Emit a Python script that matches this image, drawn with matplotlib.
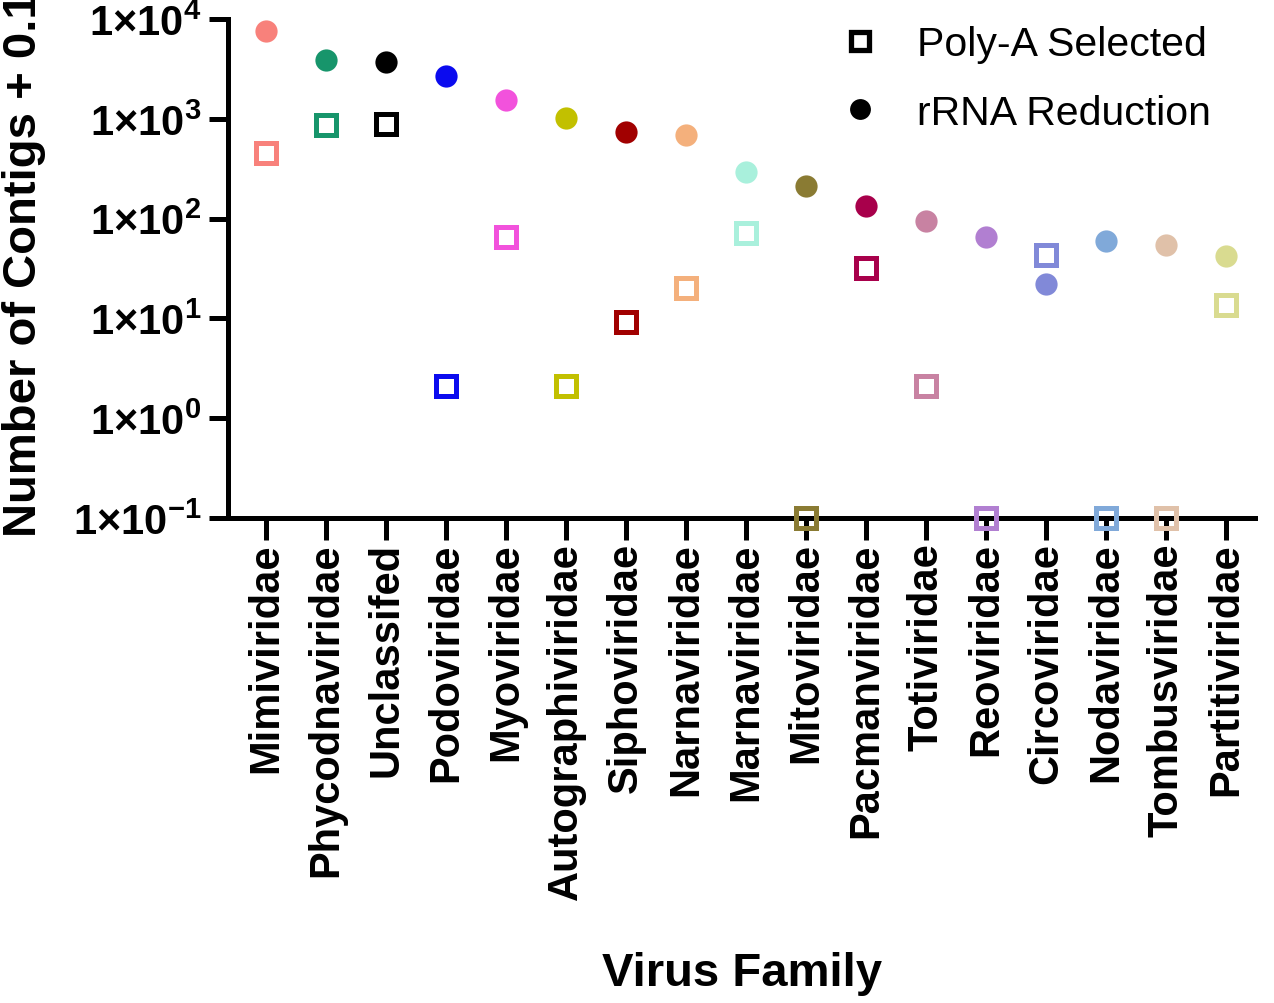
import numpy as np
import matplotlib
matplotlib.use("Agg")
import matplotlib.pyplot as plt
from matplotlib.lines import Line2D

# data (values are contigs + 0.1)
families = ["Mimiviridae", "Phycodnaviridae", "Unclassifed", "Podoviridae",
            "Myoviridae", "Autographiviridae", "Siphoviridae", "Narnaviridae",
            "Marnaviridae", "Mitoviridae", "Pacmanviridae", "Totiviridae",
            "Reoviridae", "Circoviridae", "Nodaviridae", "Tombusviridae",
            "Partitiviridae"]
rrna = [7600, 3900, 3700, 2700, 1550, 1020, 740, 690, 295, 210,
        135, 95, 66, 22, 59, 54, 42]
polya = [457, 870, 890, 2.1, 66, 2.1, 9.1, 20, 71, 0.1,
         32, 2.1, 0.1, 43, 0.1, 0.1, 13.5]
colors = ["#F8817B", "#17956B", "#000000", "#0B0BEF", "#F252DC", "#C2C000",
          "#A10000", "#F4B07C", "#A9F0DC", "#8A7B33", "#A8004B", "#C882A2",
          "#B17FD1", "#8189D8", "#80A9D9", "#E0C1A9", "#D9DB90"]
yticks = [0.1, 1, 10, 100, 1000, 10000]
ytick_labels = [r"$\mathbf{1{\times}10^{-1}}$", r"$\mathbf{1{\times}10^{0}}$",
                r"$\mathbf{1{\times}10^{1}}$", r"$\mathbf{1{\times}10^{2}}$",
                r"$\mathbf{1{\times}10^{3}}$", r"$\mathbf{1{\times}10^{4}}$"]

plt.rcParams['font.family'] = ['Liberation Sans', 'DejaVu Sans']
plt.rcParams['mathtext.fontset'] = 'custom'
plt.rcParams['mathtext.rm'] = 'Liberation Sans'
plt.rcParams['mathtext.bf'] = 'Liberation Sans:bold'

fig = plt.figure(figsize=(12.74, 10.04), dpi=100)
ax = fig.add_axes([228/1274, 1 - 519/1004, (1255 - 228)/1274, (519 - 20)/1004])

x = np.arange(len(families))
for i in range(len(families)):
    ax.plot(x[i], rrna[i], 'o', ms=16, color=colors[i], mec='none',
            clip_on=False, zorder=3)
    ax.plot(x[i], polya[i], 's', ms=15, mfc='none', mec=colors[i],
            mew=3.6, clip_on=False, zorder=4)

ax.set_yscale('log')
ax.set_ylim(0.1, 10000)
ax.set_xlim(-0.633, 16.48)
ax.set_yticks(yticks)
ax.set_yticklabels(ytick_labels, fontsize=30)
ax.minorticks_off()
ax.set_xticks(x)
ax.set_xticklabels(families, rotation=90, fontsize=30, fontweight='bold')

for s in ['top', 'right']:
    ax.spines[s].set_visible(False)
for s in ['left', 'bottom']:
    ax.spines[s].set_linewidth(3.6)
ax.tick_params(axis='y', length=14, width=3.6, pad=5)
ax.tick_params(axis='x', length=16, width=3.6, pad=1.5)

ax.set_ylabel("Number of Contigs + 0.1", fontsize=34, fontweight='bold')
ax.yaxis.set_label_coords(-0.177, 0.509)
ax.set_xlabel("Virus Family", fontsize=34, fontweight='bold')
ax.xaxis.set_label_coords(0.5, -0.868)

# legend with black handles
handles = [Line2D([], [], ls='none', marker='s', ms=13.5, mfc='none', mec='black', mew=3.8),
           Line2D([], [], ls='none', marker='o', ms=15, color='black', mec='none')]
ax.legend(handles, ["Poly-A Selected", "rRNA Reduction"], loc='upper left',
          bbox_to_anchor=(840/1274, 1 - 26/1004), bbox_transform=fig.transFigure,
          frameon=False, fontsize=29.5, handletextpad=0.89, labelspacing=0.75,
          borderpad=0, borderaxespad=0, handlelength=1.0)

plt.savefig('out.png', dpi=100)
